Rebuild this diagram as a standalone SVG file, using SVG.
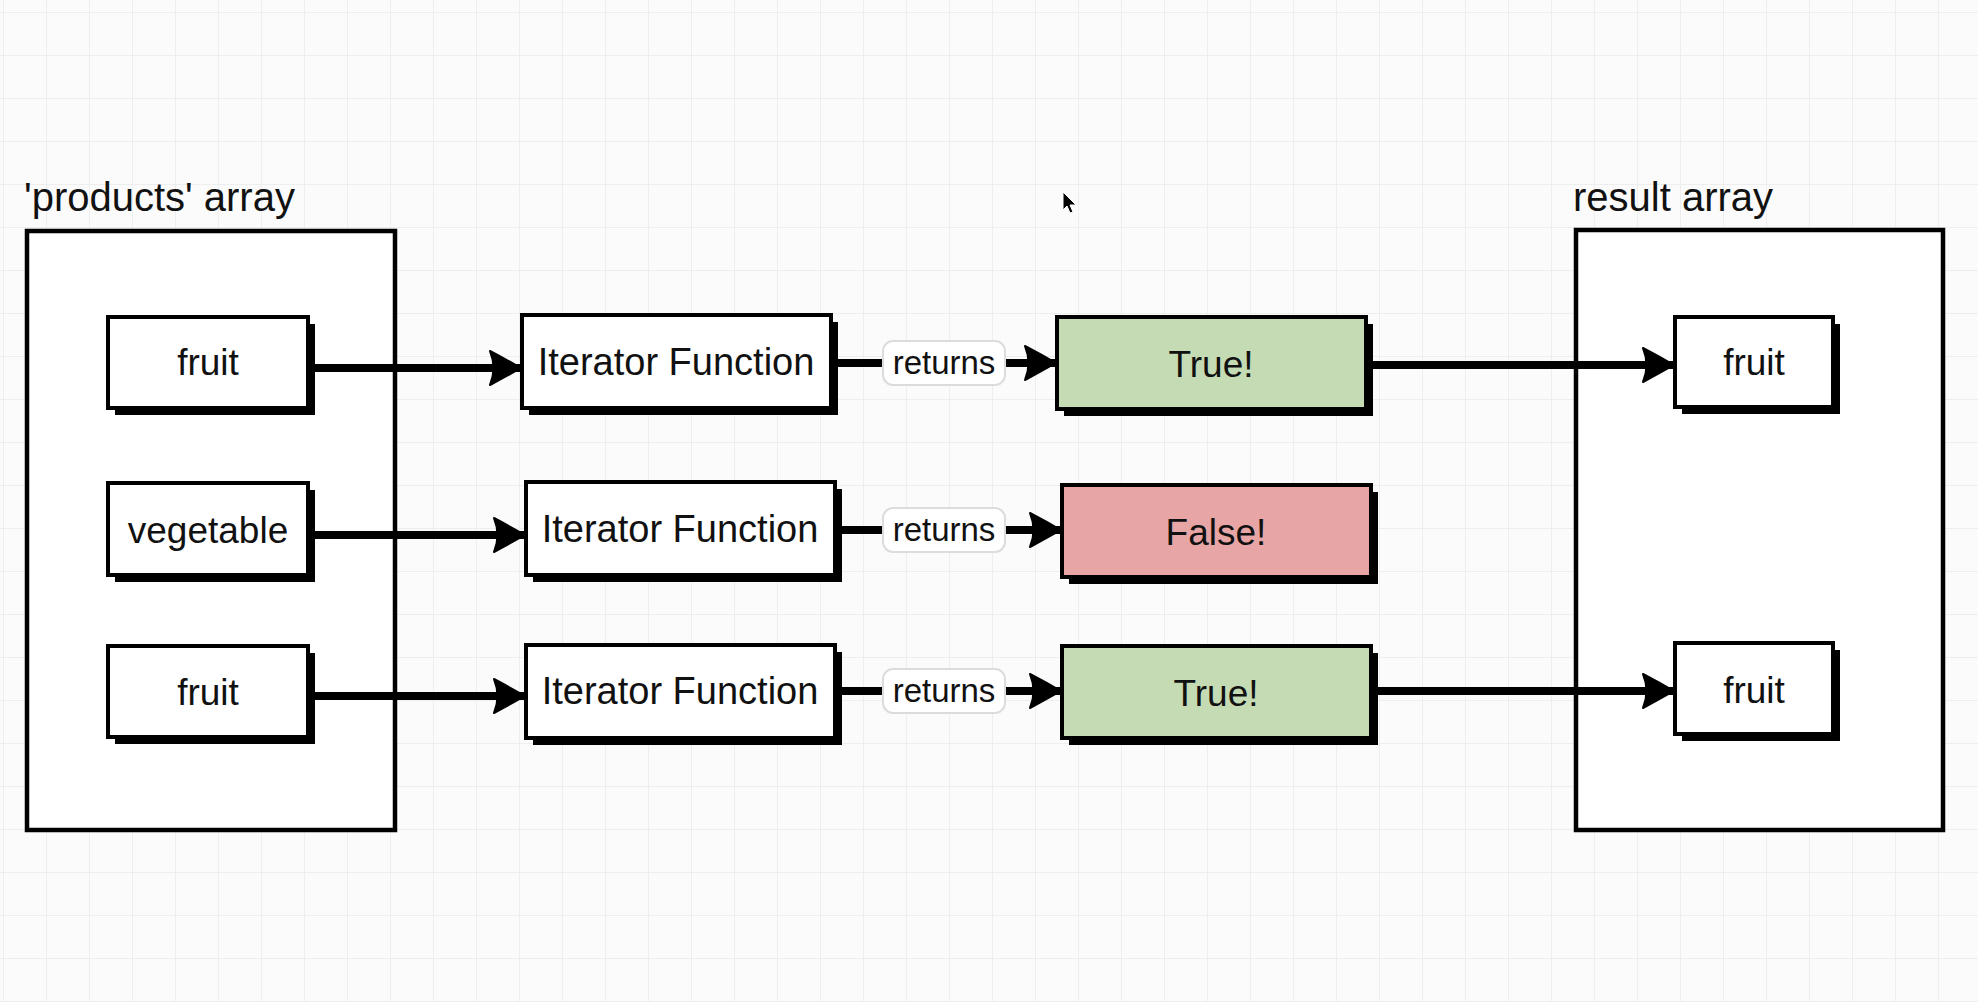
<svg xmlns="http://www.w3.org/2000/svg" width="1978" height="1002" viewBox="0 0 1978 1002">
<style>
  .txt { font-family: "Liberation Sans", Arial, sans-serif; fill: #111; }
  .lbl { font-size: 40px; }
  .nt { font-size: 37px; text-anchor: middle; dominant-baseline: central; }
  .it { font-size: 38px; }
  .rt { font-size: 33px; text-anchor: middle; dominant-baseline: central; }
  .box { stroke: #000; stroke-width: 4; fill: #fff; }
  .shadow { fill: #000; }
  .cont { stroke: #000; stroke-width: 4.5; fill: #fff; }
  .edge { stroke: #000; stroke-width: 8; fill: none; marker-end: url(#ah); }
  .rlab { fill: #fff; stroke: #dcdcdc; stroke-width: 2; }
  .true { fill: #c4dbb3; }
  .false { fill: #e8a5a5; }
</style>
<defs>
  <pattern id="grid" x="3" y="12" width="43" height="43" patternUnits="userSpaceOnUse">
    <path d="M0,0 H43 M0,0 V43" stroke="#eeeeee" stroke-width="2" fill="none"/>
  </pattern>
  <marker id="ah" markerUnits="userSpaceOnUse" viewBox="-34 -20 36 40" refX="0" refY="0" markerWidth="36" markerHeight="40" orient="auto">
    <path d="M0,0 Q-14,-8 -31,-17 Q-24,0 -31,17 Q-14,8 0,0 Z" fill="#000" stroke="#000" stroke-width="2" stroke-linejoin="round"/>
  </marker>
</defs>
<rect x="0" y="0" width="1978" height="1002" fill="#fbfbfb"/>
<rect x="0" y="0" width="1978" height="1002" fill="url(#grid)"/>

<g id="products-array">
  <rect class="cont" x="27" y="231" width="368" height="599"/>
  <text class="txt lbl" x="24" y="211">'products' array</text>
</g>
<g id="result-array">
  <rect class="cont" x="1576" y="230" width="367" height="600"/>
  <text class="txt lbl" x="1573" y="211">result array</text>
</g>

<g id="connectors">
  <line class="edge" x1="310" y1="368" x2="521" y2="368"/>
  <line class="edge" x1="310" y1="535" x2="525" y2="535"/>
  <line class="edge" x1="310" y1="696" x2="525" y2="696"/>
  <line class="edge" x1="831" y1="363" x2="1056" y2="363"/>
  <line class="edge" x1="835" y1="530" x2="1061" y2="530"/>
  <line class="edge" x1="835" y1="691" x2="1061" y2="691"/>
  <line class="edge" x1="1366" y1="365" x2="1674" y2="365"/>
  <line class="edge" x1="1371" y1="691" x2="1674" y2="691"/>
  <g id="label-returns-1">
    <rect class="rlab" x="883" y="341" width="122" height="44" rx="10"/>
    <text class="txt rt" x="944" y="362">returns</text>
  </g>
  <g id="label-returns-2">
    <rect class="rlab" x="883" y="508" width="122" height="44" rx="10"/>
    <text class="txt rt" x="944" y="529">returns</text>
  </g>
  <g id="label-returns-3">
    <rect class="rlab" x="883" y="669" width="122" height="44" rx="10"/>
    <text class="txt rt" x="944" y="690">returns</text>
  </g>
</g>

<g id="fruit-1">
  <rect class="shadow" x="115" y="324" width="200" height="91"/>
  <rect class="box" x="108" y="317" width="200" height="91"/>
  <text class="txt nt" x="208" y="362">fruit</text>
</g>
<g id="vegetable">
  <rect class="shadow" x="115" y="490" width="200" height="92"/>
  <rect class="box" x="108" y="483" width="200" height="92"/>
  <text class="txt nt" x="208" y="530">vegetable</text>
</g>
<g id="fruit-3">
  <rect class="shadow" x="115" y="653" width="200" height="91"/>
  <rect class="box" x="108" y="646" width="200" height="91"/>
  <text class="txt nt" x="208" y="692">fruit</text>
</g>

<g id="iterator-1">
  <rect class="shadow" x="529" y="322" width="309" height="93"/>
  <rect class="box" x="522" y="315" width="309" height="93"/>
  <text class="txt nt it" x="676" y="362">Iterator Function</text>
</g>
<g id="iterator-2">
  <rect class="shadow" x="533" y="489" width="309" height="93"/>
  <rect class="box" x="526" y="482" width="309" height="93"/>
  <text class="txt nt it" x="680" y="529">Iterator Function</text>
</g>
<g id="iterator-3">
  <rect class="shadow" x="533" y="652" width="309" height="93"/>
  <rect class="box" x="526" y="645" width="309" height="93"/>
  <text class="txt nt it" x="680" y="691">Iterator Function</text>
</g>

<g id="true-1">
  <rect class="shadow" x="1064" y="324" width="309" height="92"/>
  <rect class="box true" x="1057" y="317" width="309" height="92"/>
  <text class="txt nt" x="1211" y="364">True!</text>
</g>
<g id="false-2">
  <rect class="shadow" x="1069" y="492" width="309" height="92"/>
  <rect class="box false" x="1062" y="485" width="309" height="92"/>
  <text class="txt nt" x="1216" y="532">False!</text>
</g>
<g id="true-3">
  <rect class="shadow" x="1069" y="653" width="309" height="92"/>
  <rect class="box true" x="1062" y="646" width="309" height="92"/>
  <text class="txt nt" x="1216" y="693">True!</text>
</g>

<g id="result-fruit-1">
  <rect class="shadow" x="1682" y="324" width="158" height="90"/>
  <rect class="box" x="1675" y="317" width="158" height="90"/>
  <text class="txt nt" x="1754" y="362">fruit</text>
</g>
<g id="result-fruit-2">
  <rect class="shadow" x="1682" y="650" width="158" height="91"/>
  <rect class="box" x="1675" y="643" width="158" height="91"/>
  <text class="txt nt" x="1754" y="690">fruit</text>
</g>

<path d="M1063,192 L1063,210 L1067,206 L1070,213 L1073,212 L1070,205 L1076,205 Z" fill="#000" stroke="#fff" stroke-width="1"/>
</svg>
